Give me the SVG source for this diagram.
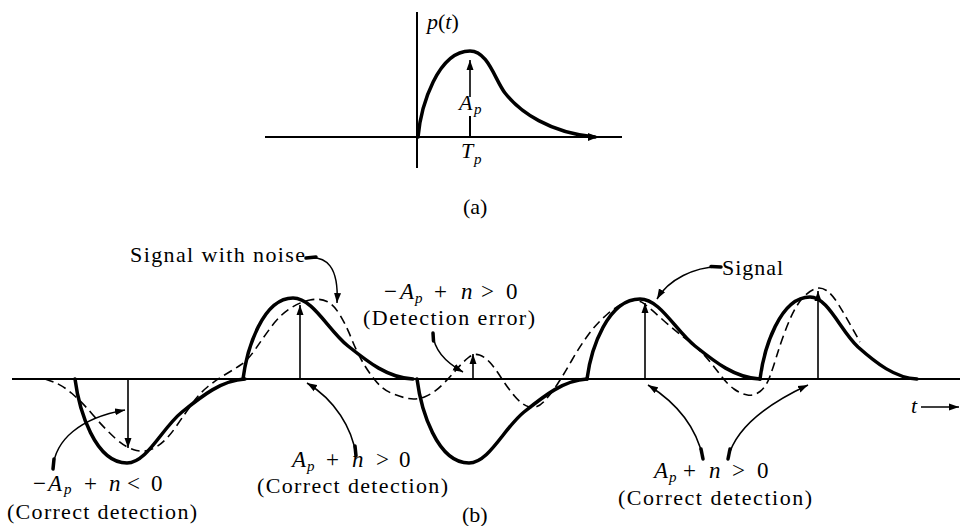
<svg xmlns="http://www.w3.org/2000/svg" width="963" height="526" viewBox="0 0 963 526">
<style>
text{font-family:"Liberation Serif","Times New Roman",serif;font-size:22px;fill:#000}
.m{font-size:23px}
.it{font-style:italic}
.sub{font-size:15px;font-style:italic}
.axis{stroke:#000;stroke-width:2;fill:none}
.bold{stroke:#000;stroke-width:3.5;fill:none;stroke-linecap:round;stroke-linejoin:round}
.dash{stroke:#000;stroke-width:1.6;fill:none;stroke-dasharray:9 5}
.samp{stroke:#000;stroke-width:1.6;fill:none;marker-end:url(#ah)}
.conn{stroke:#000;stroke-width:1.5;fill:none;marker-end:url(#ah)}
.tail{stroke:#000;stroke-width:3.5;fill:none;stroke-linecap:round}
</style>
<defs>
<marker id="ah" markerUnits="userSpaceOnUse" markerWidth="11" markerHeight="8" refX="10" refY="4" orient="auto"><path d="M0,0.5 L10,4 L0,7.5 z" fill="#000"/></marker>
</defs>
<rect width="963" height="526" fill="#fff"/>

<g id="panel-a">
<line class="axis" x1="417" y1="12" x2="417" y2="168"/>
<line class="axis" x1="265" y1="137" x2="622" y2="137"/>
<path d="M588,133 L598,137 L588,141 z" fill="#000"/>
<path class="bold" d="M418,137 C421,105 438,51 470,51 C488,51 495,80 505,93 C520,112 550,133 595,137"/>
<line class="axis" x1="470" y1="137" x2="470" y2="116"/>
<line class="samp" x1="470" y1="97" x2="470" y2="60"/>
<text x="427" y="29"><tspan class="it">p</tspan>(<tspan class="it">t</tspan>)</text>
<text x="459" y="110" class="it">A</text><text x="474" y="114" class="sub">p</text>
<text x="461" y="158" class="it">T</text><text x="474" y="164" class="sub">p</text>
<text x="463" y="214">(a)</text>
</g>

<g id="panel-b">
<line class="axis" x1="12" y1="379" x2="960" y2="379"/>
<g id="signal">
<path class="bold" d="M75,379 C79,410 95,463 127,463 C147,463 162,428 182,412 C202,396 222,380 245,379"/>
<path class="bold" d="M243,379 C247,348 263,298 293,298 C313,298 328,330 348,346 C368,362 388,378 413,379"/>
<path class="bold" d="M417,379 C421,410 437,463 469,463 C489,463 504,428 524,412 C544,396 564,380 587,379"/>
<path class="bold" d="M587,379 C591,348 608,299 640,299 C660,299 675,330 695,346 C715,362 735,378 760,379"/>
<path class="bold" d="M760,379 C764,348 780,297 810,297 C828,297 840,330 858,347 C876,363 895,378 917,379"/>
</g>
<g id="signal-with-noise">
<path class="dash" d="M45,379 L53.5,382 Q62,385 72,393.5 Q82,402 93,415 Q104,428 115,438 Q126,448 136.5,450.5 Q147,453 157,446.5 Q167,440 176.5,426 Q186,412 193,402.5 Q200,393 208,386.5 Q216,380 224.5,375 Q233,370 240.5,365 Q248,360 255.5,349 Q263,338 271.5,326.5 Q280,315 290,308.5 Q300,302 310,300 Q320,298 327,301.5 Q334,305 340,315 Q346,325 351,337.5 Q356,350 361.5,360 Q367,370 374.5,379.5 Q382,389 391,393 Q400,397 408.5,398.5 Q417,400 425.5,396.5 Q434,393 442,385 Q450,377 456.5,369.5 Q463,362 468.5,357.5 Q474,353 479.5,355 Q485,357 490,362.5 Q495,368 501,377.5 Q507,387 514.5,396 Q522,405 529.5,407 Q537,409 544,401.5 Q551,394 557.5,384 Q564,374 572,360 Q580,346 588.5,334.5 Q597,323 607.5,314 Q618,305 627.5,301.5 Q637,298 644.5,304 Q652,310 663,320 Q674,330 685.5,338.5 Q697,347 705,356 Q713,365 720,374.5 Q727,384 734,389 Q741,394 747.5,395 Q754,396 760,391.5 Q766,387 769.5,377.5 Q773,368 776.5,356.5 Q780,345 785,331.5 Q790,318 795,309 Q800,300 805.5,295 Q811,290 816,288.5 Q821,287 826.5,290.5 Q832,294 838.5,304.5 Q845,315 852.5,328.5 L860,342"/>
</g>
<g id="samples">
<line class="samp" x1="128" y1="379" x2="128" y2="448"/>
<line class="samp" x1="300" y1="379" x2="300" y2="305"/>
<line class="samp" x1="473" y1="379" x2="473" y2="354"/>
<line class="samp" x1="645" y1="379" x2="645" y2="303"/>
<line class="samp" x1="818" y1="379" x2="818" y2="291"/>
</g>
<g id="time-axis-label">
<text x="911" y="413" class="it">t</text>
<line class="conn" x1="921" y1="407" x2="959" y2="407"/>
</g>
</g>

<g id="connectors">
<path class="conn" d="M308,258 C326,256 339,266 337,303"/>
<path class="tail" d="M306,258 L316,257"/>
<path class="conn" d="M433,334 C434,350 445,362 463,372"/>
<path class="tail" d="M433,333 L433.5,341"/>
<path class="conn" d="M720,267 C695,266 668,280 657,299"/>
<path class="tail" d="M721,267 L711,266.5"/>
<path class="conn" d="M53,468 C55,440 80,418 125,410"/>
<path class="tail" d="M53,469 L54,459"/>
<path class="conn" d="M356,455 C352,428 335,400 307,383"/>
<path class="tail" d="M356,456 L355,446"/>
<path class="conn" d="M703,458 C697,430 680,405 648,385"/>
<path class="tail" d="M703,459 L701,449"/>
<path class="conn" d="M728,458 C735,430 765,405 808,385"/>
<path class="tail" d="M728,459 L730,449"/>
</g>

<g id="labels">
<text x="130" y="262" textLength="175" lengthAdjust="spacing">Signal with noise</text>
<text x="722" y="275" textLength="61" lengthAdjust="spacing">Signal</text>
<g id="label-error">
<text y="299" class="m"><tspan x="384">−</tspan><tspan x="400" class="it">A</tspan><tspan x="415" dy="4" class="sub">p</tspan><tspan x="434" dy="-4">+</tspan><tspan x="461" class="it">n</tspan><tspan x="481">&gt;</tspan><tspan x="506">0</tspan></text>
<text x="363" y="325" textLength="172" lengthAdjust="spacing">(Detection error)</text>
</g>
<g id="label-left">
<text y="491" class="m"><tspan x="33">−</tspan><tspan x="48" class="it">A</tspan><tspan x="64" dy="3" class="sub">p</tspan><tspan x="84" dy="-3">+</tspan><tspan x="109" class="it">n</tspan><tspan x="127">&lt;</tspan><tspan x="151">0</tspan></text>
<text x="7" y="519" textLength="190" lengthAdjust="spacing">(Correct detection)</text>
</g>
<g id="label-middle">
<text y="467" class="m"><tspan x="292" class="it">A</tspan><tspan x="307" dy="4" class="sub">p</tspan><tspan x="326" dy="-4">+</tspan><tspan x="352" class="it">n</tspan><tspan x="376">&gt;</tspan><tspan x="399">0</tspan></text>
<text x="257" y="493" textLength="191" lengthAdjust="spacing">(Correct detection)</text>
</g>
<g id="label-right">
<text y="478" class="m"><tspan x="654" class="it">A</tspan><tspan x="669" dy="4" class="sub">p</tspan><tspan x="683" dy="-4">+</tspan><tspan x="709" class="it">n</tspan><tspan x="732">&gt;</tspan><tspan x="757">0</tspan></text>
<text x="618" y="505" textLength="194" lengthAdjust="spacing">(Correct detection)</text>
</g>
<text x="462" y="522">(b)</text>
</g>
</svg>
